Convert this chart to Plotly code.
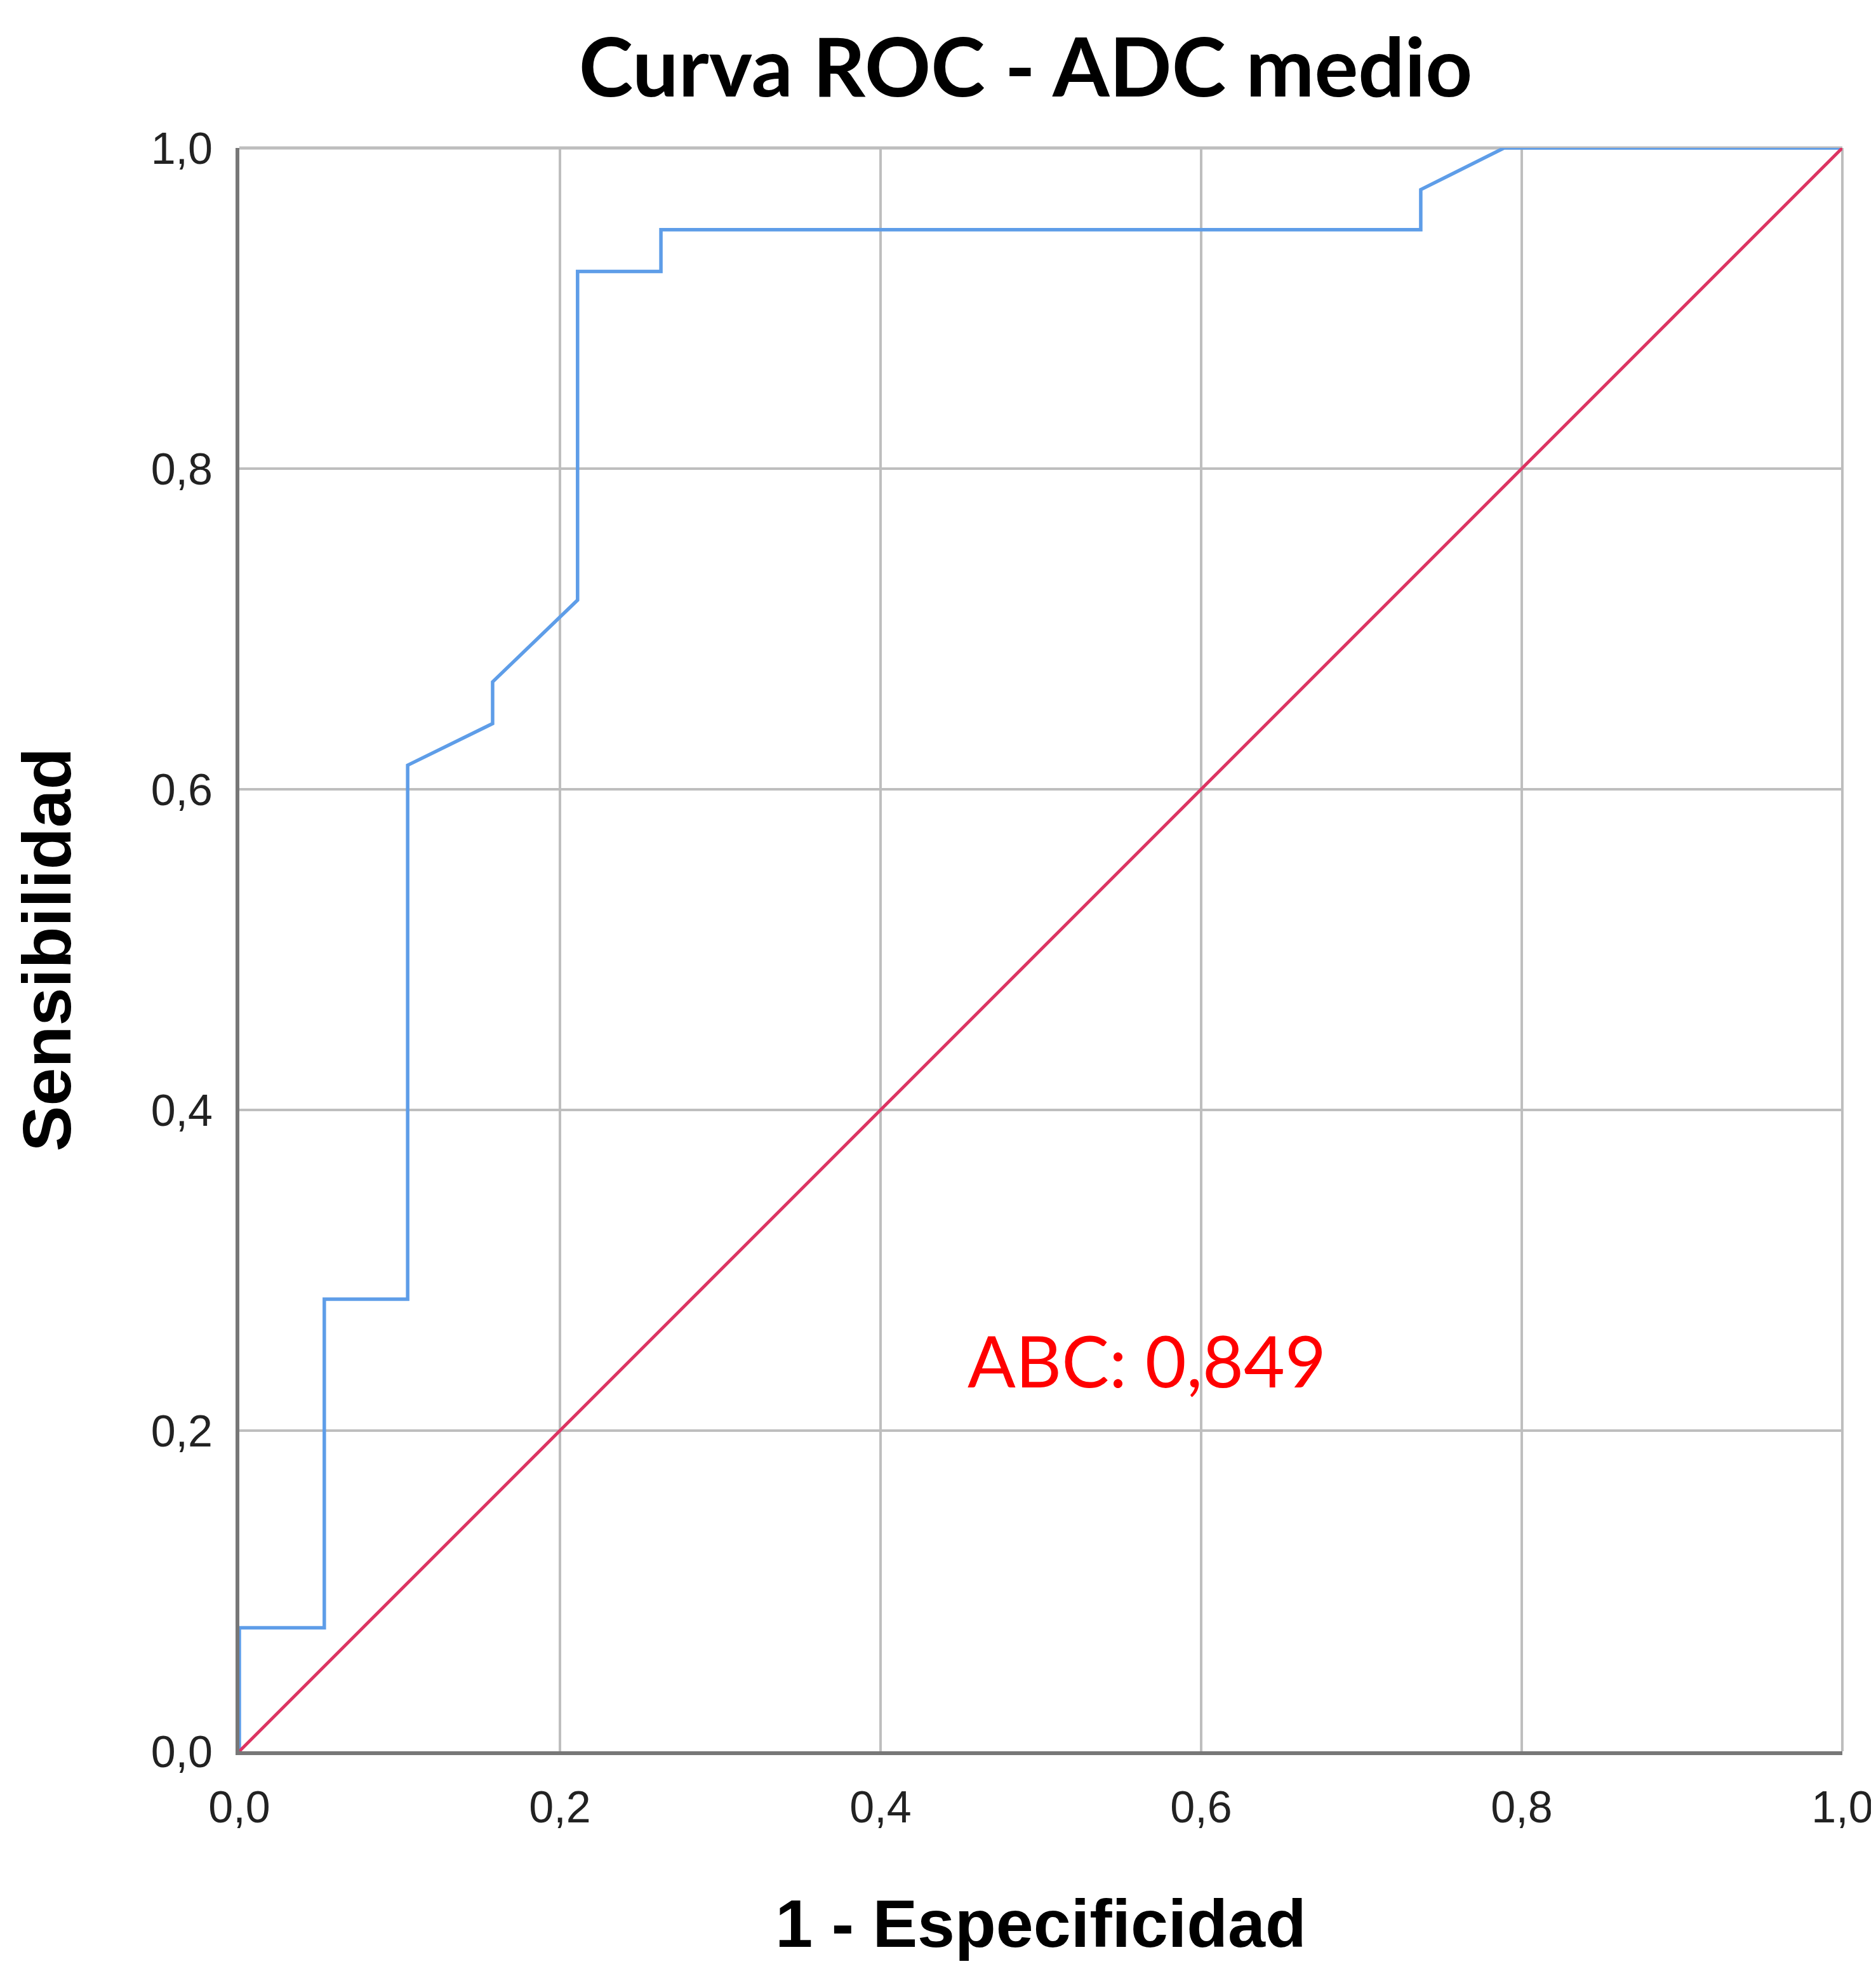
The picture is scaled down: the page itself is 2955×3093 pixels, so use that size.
import plotly.graph_objects as go

# ROC curve points (1 - specificity, sensitivity)
roc_fpr = [0.0, 0.0, 0.053, 0.053, 0.105, 0.105, 0.158, 0.158, 0.211, 0.211,
           0.263, 0.263, 0.737, 0.737, 0.789, 1.0]
roc_tpr = [0.0, 0.077, 0.077, 0.282, 0.282, 0.615, 0.641, 0.667, 0.718, 0.923,
           0.923, 0.949, 0.949, 0.974, 1.0, 1.0]

# Reference (chance) line
ref_x = [0.0, 1.0]
ref_y = [0.0, 1.0]

tick_vals = [0.0, 0.2, 0.4, 0.6, 0.8, 1.0]
auc_text = "ABC: 0,849"
auc_pos = (0.566, 0.244)

fig = go.Figure()
fig.add_trace(go.Scatter(x=roc_fpr, y=roc_tpr, mode="lines",
                         line=dict(color="#5E9DE8", width=5.5), showlegend=False))
fig.add_trace(go.Scatter(x=ref_x, y=ref_y, mode="lines",
                         line=dict(color="#DC3462", width=5), showlegend=False))

fig.add_annotation(x=auc_pos[0], y=auc_pos[1], xref="x", yref="y", text=auc_text,
                   showarrow=False, font=dict(family="Lato, Open Sans, sans-serif", size=112, color="#FF0000"))

# light frame on top and right (as in the original)
fig.add_shape(type="line", xref="paper", yref="paper", x0=0, x1=1, y0=1, y1=1,
              line=dict(color="#BEBEBE", width=5), layer="below")
fig.add_shape(type="line", xref="paper", yref="paper", x0=1, x1=1, y0=0, y1=1,
              line=dict(color="#BEBEBE", width=4), layer="below")

axis_common = dict(range=[0, 1], tickvals=tick_vals, tickformat=".1f",
                   showgrid=True, gridcolor="#BEBEBE", gridwidth=3.5,
                   zeroline=False, showline=True, linecolor="#777777", linewidth=6,
                   ticks="", tickfont=dict(family="Liberation Sans, Arial, sans-serif", size=70, color="#222222"))

fig.update_layout(
    width=2955, height=3093,
    margin=dict(l=369, r=51, t=225, b=343),
    paper_bgcolor="white", plot_bgcolor="white",
    separators=",.",
    title=dict(text="<b>Curva ROC - ADC medio</b>", x=0.544, xanchor="center", y=0.968, yanchor="middle",
               font=dict(family="Lato, Open Sans, sans-serif", size=129, color="black")),
    xaxis=dict(**axis_common, ticklabelstandoff=22,
               title=dict(text="<b>1 - Especificidad</b>", standoff=110,
                          font=dict(family="Liberation Sans, Arial, sans-serif", size=106, color="black"))),
    yaxis=dict(**axis_common, ticklabelstandoff=22,
               title=dict(text="<b>Sensibilidad</b>", standoff=92,
                          font=dict(family="Liberation Sans, Arial, sans-serif", size=108, color="black"))),
)

fig.write_html("out.html")
